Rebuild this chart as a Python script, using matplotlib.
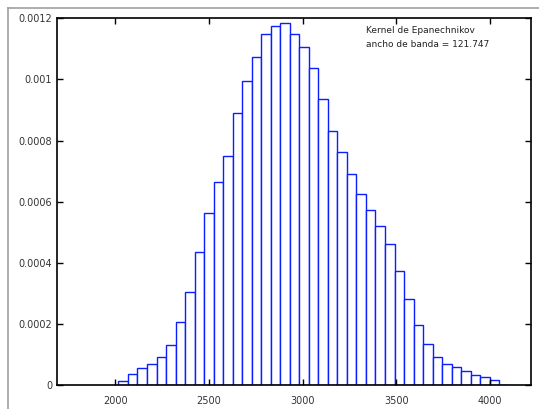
import numpy as np
import matplotlib
matplotlib.use("Agg")
import matplotlib.pyplot as plt
from matplotlib.lines import Line2D

# densidad por intervalo
densidad = [
    1.2e-5, 3.7e-5, 5.6e-5, 6.8e-5, 9.1e-5, 1.30e-4, 2.07e-4, 3.05e-4,
    4.34e-4, 5.62e-4, 6.63e-4, 7.50e-4, 8.89e-4, 9.95e-4, 1.074e-3, 1.148e-3,
    1.176e-3, 1.184e-3, 1.150e-3, 1.107e-3, 1.036e-3, 9.37e-4, 8.30e-4, 7.62e-4,
    6.90e-4, 6.26e-4, 5.72e-4, 5.20e-4, 4.60e-4, 3.72e-4, 2.80e-4, 1.95e-4,
    1.33e-4, 9.2e-5, 6.9e-5, 6.0e-5, 4.5e-5, 3.3e-5, 2.6e-5, 1.5e-5, 0.0,
]
x_ticks = [2000, 2500, 3000, 3500, 4000]
y_ticks = [0, 0.0002, 0.0004, 0.0006, 0.0008, 0.001, 0.0012]
y_labels = ["0", "0.0002", "0.0004", "0.0006", "0.0008", "0.001", "0.0012"]
leyenda = ["Kernel de Epanechnikov", "ancho de banda = 121.747"]

inicio = 2017.6
ancho = 50.8

fig = plt.figure(figsize=(5.39, 4.09), dpi=100)
ax = fig.add_axes([0.1058, 0.0587, 0.8794, 0.8966])

bordes = inicio + ancho * np.arange(len(densidad))
ax.bar(bordes, densidad, width=ancho, align="edge", facecolor="white",
       edgecolor="#0a1eff", linewidth=1.0)

ax.set_xlim(1690, 4219)
ax.set_ylim(0, 0.0012)
ax.set_xticks(x_ticks)
ax.set_yticks(y_ticks)
ax.set_yticklabels(y_labels)
ax.tick_params(direction="in", top=True, right=True, labelsize=7,
               labelcolor="#333333", length=4, width=1)
ax.tick_params(axis="x", pad=8)
for s in ax.spines.values():
    s.set_linewidth(1.2)

ax.text(0.652, 0.98, leyenda[0], transform=ax.transAxes, fontsize=6.5,
        color="#222222", va="top")
ax.text(0.652, 0.942, leyenda[1], transform=ax.transAxes, fontsize=6.5,
        color="#222222", va="top")

# marco gris de la ventana
fig.add_artist(Line2D([8 / 539, 1], [1 - 7.5 / 409] * 2, color="#a0a0a0", lw=1.2))
fig.add_artist(Line2D([8 / 539] * 2, [0, 1 - 7.5 / 409], color="#a0a0a0", lw=1.2))

fig.savefig("out.png", dpi=100)
